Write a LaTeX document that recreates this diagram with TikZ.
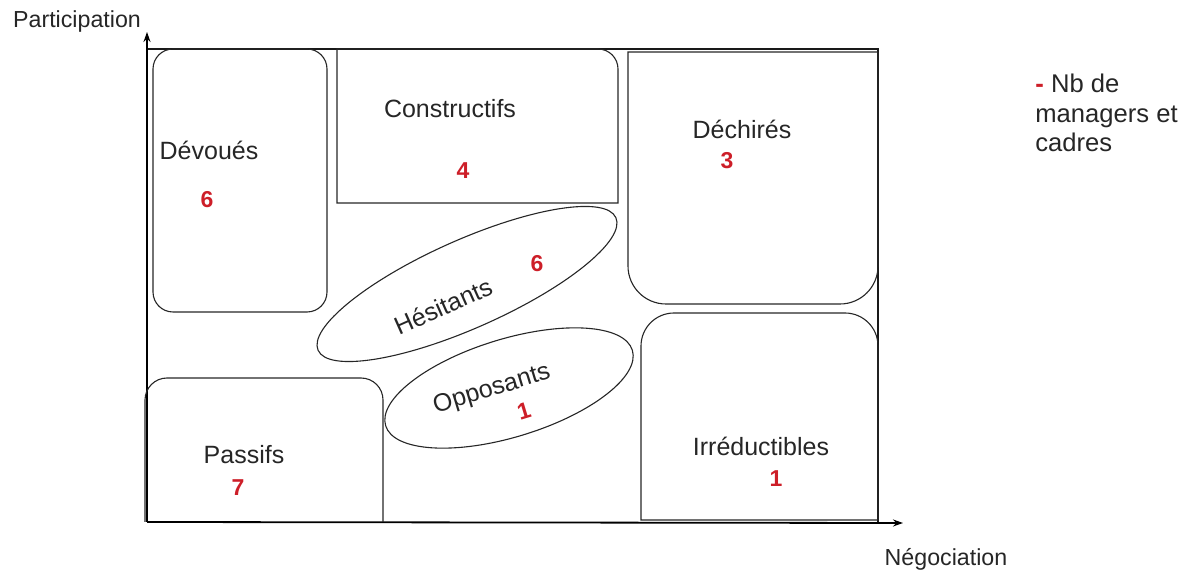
\documentclass[tikz,border=0pt]{standalone}
\usepackage{fontspec}
\setmainfont{Liberation Sans}
\usetikzlibrary{arrows.meta}
\definecolor{nbred}{RGB}{205,30,40}
\tikzset{
  frame/.style={draw=black!90, line width=0.75pt},
  axis/.style={draw=black, line width=0.9pt, -{Stealth[length=5pt,width=3.5pt]}},
  zone/.style={draw=black!85, line width=0.55pt},
  cat/.style={anchor=base, inner sep=0pt, font=\fontsize{12.5}{15}\selectfont, text=black!85},
  axlbl/.style={anchor=base, inner sep=0pt, font=\fontsize{11.6}{14}\selectfont, text=black!85},
  legende/.style={anchor=base west, inner sep=0pt, font=\fontsize{12.8}{15}\selectfont, text=black!85},
  nb/.style={anchor=base, inner sep=0pt, text=nbred, font=\fontsize{11.5}{14}\selectfont\bfseries},
}
\begin{document}
\begin{tikzpicture}[x=0.5pt,y=-0.5pt]
    \useasboundingbox (0,0) rectangle (1189,571);
    % axes and frame
    \coordinate (O) at (147,522);
    \coordinate (ytip) at (147,32);
    \coordinate (xtip) at (903,523);
    \draw[frame] (147,49) -- (878,49) -- (878,522);
    \draw[axis] (O) -- (ytip);
    \draw[axis] (O) -- (xtip);
    \node[axlbl] (participation) at (77,28) {Participation};
    \node[axlbl] (negociation) at (946,566) {Négociation};
    % zones
    \draw[zone, rounded corners=10pt] (153,49) rectangle (327,312);
    \draw[zone] (337,203) -- (337,49) -- (598,49) arc[start angle=-90, end angle=0, radius=20] -- (618,203) -- cycle;
    \draw[zone] (628,52) -- (878,52) -- (878,266) arc[start angle=0, end angle=90, radius=38] -- (666,304) arc[start angle=90, end angle=180, radius=38] -- cycle;
    \draw[zone] (641,520) -- (641,346) arc[start angle=180, end angle=270, radius=33] -- (845,313) arc[start angle=270, end angle=360, radius=33] -- (878,520) -- cycle;
    \draw[zone] (145,522) -- (145,400) arc[start angle=180, end angle=270, radius=22] -- (361,378) arc[start angle=270, end angle=360, radius=22] -- (383,522);
    \draw[zone, rotate around={24:(467,284)}] (467,284) ellipse [x radius=163, y radius=44];
    \draw[zone, rotate around={17:(509,388)}] (509,388) ellipse [x radius=129, y radius=49];
    % labels
    \node[cat] (devoues) at (209,160) {Dévoués};
    \node[nb] (nbdevoues) at (207,208) {6};
    \node[cat] (constructifs) at (450,118) {Constructifs};
    \node[nb] (nbconstructifs) at (463,179) {4};
    \node[cat] (dechires) at (742,139) {Déchirés};
    \node[nb] (nbdechires) at (727,169) {3};
    \node[cat] (irreductibles) at (761,456) {Irréductibles};
    \node[nb] (nbirreductibles) at (776,487) {1};
    \node[cat] (passifs) at (244,464) {Passifs};
    \node[nb] (nbpassifs) at (238,495) {7};
    \node[cat, anchor=center, rotate=24] (hesitants) at (443,306) {Hésitants};
    \node[nb, anchor=center] (nbhesitants) at (537,264) {6};
    \node[cat, anchor=center, rotate=17] (opposants) at (492,390) {Opposants};
    \node[nb, anchor=center, rotate=17] (nbopposants) at (524,411) {1};
    % legend
    \node[legende] (leg1) at (1035,93) {\textcolor{nbred}{\textbf{-}} Nb de};
    \node[legende] (leg2) at (1035,123) {managers et};
    \node[legende] (leg3) at (1035,152) {cadres};
\end{tikzpicture}
\end{document}
